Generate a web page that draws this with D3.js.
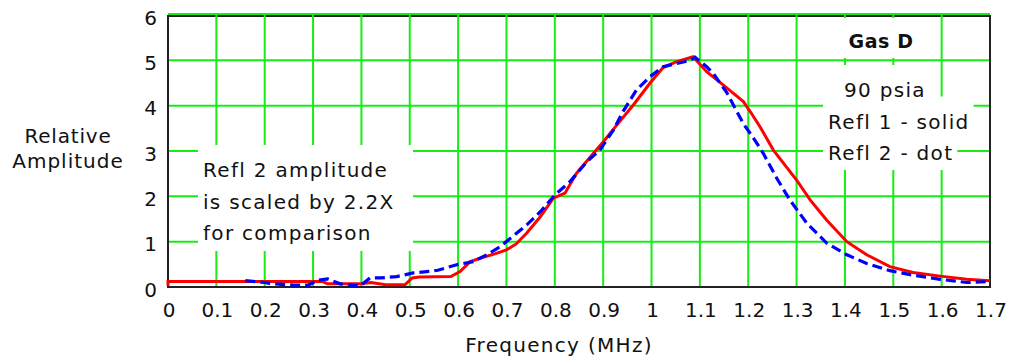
<!DOCTYPE html>
<html>
<head>
<meta charset="utf-8">
<script src="https://cdn.jsdelivr.net/npm/d3@7"></script>
<style>
body { margin: 0; background: #fff; }
text { font-family: "DejaVu Sans", sans-serif; fill: #111; }
</style>
</head>
<body>
<div id="chart"></div>
<script>
// tick values
var xTicks = [0, 0.1, 0.2, 0.3, 0.4, 0.5, 0.6, 0.7, 0.8, 0.9, 1, 1.1, 1.2, 1.3, 1.4, 1.5, 1.6, 1.7];
var yTicks = [0, 1, 2, 3, 4, 5, 6];

// Refl 1 (solid red)
var refl1Freq = [0, 0, 0.32, 0.33, 0.4, 0.42, 0.45, 0.49, 0.505, 0.52, 0.585, 0.604, 0.625, 0.65, 0.676, 0.7, 0.72, 0.742, 0.77, 0.797, 0.821, 0.845, 0.88, 0.9, 0.928, 0.962, 0.997, 1.024, 1.052, 1.086, 1.114, 1.148, 1.19, 1.204, 1.224, 1.252, 1.3, 1.328, 1.362, 1.404, 1.445, 1.493, 1.541, 1.597, 1.652, 1.7];
var refl1Amp  = [0.03, 0.12, 0.12, 0.07, 0.07, 0.1, 0.05, 0.05, 0.2, 0.22, 0.23, 0.34, 0.56, 0.65, 0.73, 0.82, 0.95, 1.19, 1.55, 1.96, 2.07, 2.51, 2.95, 3.2, 3.57, 4.01, 4.5, 4.84, 4.97, 5.08, 4.75, 4.46, 4.09, 3.87, 3.54, 3.02, 2.36, 1.92, 1.48, 1.0, 0.71, 0.45, 0.32, 0.24, 0.17, 0.14];

// Refl 2 (dashed blue, scaled 2.2X)
var refl2Freq = [0.16, 0.2, 0.21, 0.26, 0.29, 0.31, 0.33, 0.356, 0.397, 0.418, 0.44, 0.473, 0.507, 0.535, 0.558, 0.597, 0.631, 0.659, 0.687, 0.711, 0.742, 0.77, 0.8, 0.831, 0.866, 0.893, 0.921, 0.941, 0.969, 0.997, 1.024, 1.052, 1.08, 1.09, 1.114, 1.127, 1.155, 1.19, 1.21, 1.231, 1.259, 1.286, 1.321, 1.362, 1.404, 1.445, 1.493, 1.541, 1.597, 1.652, 1.7];
var refl2Amp  = [0.14, 0.1, 0.08, 0.04, 0.04, 0.15, 0.18, 0.07, 0.02, 0.2, 0.2, 0.23, 0.31, 0.34, 0.37, 0.49, 0.56, 0.71, 0.89, 1.1, 1.37, 1.66, 2.03, 2.32, 2.76, 3.02, 3.46, 3.87, 4.35, 4.64, 4.86, 4.93, 5.0, 5.07, 4.86, 4.72, 4.3, 3.6, 3.3, 2.95, 2.4, 1.92, 1.41, 0.97, 0.71, 0.52, 0.36, 0.26, 0.17, 0.1, 0.12];

var noteLines = ["Refl 2 amplitude", "is scaled by 2.2X", "for comparison"];
var legendTitle = "Gas D";
var legendLines = ["90 psia", "Refl 1 - solid", "Refl 2 - dot"];

var W = 1013, H = 362;
var svg = d3.select("#chart").append("svg")
    .attr("width", W)
    .attr("height", H);

var x = d3.scaleLinear().domain([0, 1.7]).range([168, 990]);
var y = d3.scaleLinear().domain([0, 6]).range([287, 15]);

var grid = "#14ee14";

// frame (black) under the grid
svg.append("rect")
    .attr("x", x(0)).attr("y", y(6) + 1)
    .attr("width", x(1.7) - x(0)).attr("height", y(0) - y(6) - 1)
    .attr("fill", "none").attr("stroke", "#222").attr("stroke-width", 2);

// grid lines
svg.selectAll(".vgrid")
    .data(xTicks.slice(1, -1))
    .enter().append("line")
    .attr("x1", function (d) { return x(d); })
    .attr("x2", function (d) { return x(d); })
    .attr("y1", y(0))
    .attr("y2", y(6))
    .attr("stroke", grid).attr("stroke-width", 2);

svg.selectAll(".hgrid")
    .data(yTicks.slice(1))
    .enter().append("line")
    .attr("x1", x(0))
    .attr("x2", x(1.7))
    .attr("y1", function (d) { return d == 6 ? y(d) - 1 : y(d); })
    .attr("y2", function (d) { return d == 6 ? y(d) - 1 : y(d); })
    .attr("stroke", grid).attr("stroke-width", 2);

// left, bottom, right edges back on top of the grid
svg.append("path")
    .attr("d", "M" + x(0) + "," + y(6) + "V" + y(0) + "H" + x(1.7) + "V" + y(6))
    .attr("fill", "none").attr("stroke", "#222").attr("stroke-width", 2);

// note box on the left
var note = svg.append("g");
note.append("rect")
    .attr("x", 198).attr("y", 145).attr("width", 215).attr("height", 106)
    .attr("fill", "#fff");
note.selectAll("text")
    .data(noteLines)
    .enter().append("text")
    .attr("x", 203)
    .attr("y", function (d, i) { return 177 + i * 31.5; })
    .attr("font-size", 20)
    .attr("letter-spacing", 1.3)
    .text(function (d) { return d; });

// legend text on the right, each line on its own white patch
var legend = [
    {t: legendTitle, x: 881, y: 48, anchor: "middle", bold: true},
    {t: legendLines[0], x: 885, y: 97, anchor: "middle"},
    {t: legendLines[1], x: 828, y: 128.5, anchor: "start"},
    {t: legendLines[2], x: 828, y: 160, anchor: "start"}
];
var lgBg = svg.append("g");
var lgText = svg.append("g").selectAll("text")
    .data(legend)
    .enter().append("text")
    .attr("x", function (d) { return d.x; })
    .attr("y", function (d) { return d.y; })
    .attr("text-anchor", function (d) { return d.anchor; })
    .attr("font-size", function (d) { return d.bold ? 19 : 20; })
    .attr("font-weight", function (d) { return d.bold ? "bold" : "normal"; })
    .attr("letter-spacing", function (d) { return d.bold ? 0.6 : 1.3; })
    .text(function (d) { return d.t; });
lgText.each(function (d, i) {
    var b = this.getBBox();
    var top = d.bold ? 18 : d.y - 32;
    var bottom = d.bold ? 58 : (i == legend.length - 1 ? d.y + 10 : d.y + 2);
    lgBg.append("rect")
        .attr("x", b.x - 5).attr("y", top)
        .attr("width", b.width + 9).attr("height", bottom - top)
        .attr("fill", "#fff");
});

// axis labels
svg.selectAll(".xlab")
    .data(xTicks)
    .enter().append("text")
    .attr("x", function (d) { return x(d) + 1; })
    .attr("y", 317)
    .attr("text-anchor", "middle")
    .attr("font-size", 20)
    .text(function (d) { return String(d); });

svg.selectAll(".ylab")
    .data(yTicks)
    .enter().append("text")
    .attr("x", 157)
    .attr("y", function (d) { return y(d) + 9.5; })
    .attr("text-anchor", "end")
    .attr("font-size", 20)
    .text(function (d) { return String(d); });

svg.append("text")
    .attr("x", 559).attr("y", 352)
    .attr("text-anchor", "middle")
    .attr("font-size", 20)
    .attr("letter-spacing", 1.3)
    .text("Frequency (MHz)");

svg.append("text")
    .attr("x", 68).attr("y", 143)
    .attr("text-anchor", "middle")
    .attr("font-size", 20)
    .attr("letter-spacing", 0.8)
    .text("Relative");
svg.append("text")
    .attr("x", 68).attr("y", 168)
    .attr("text-anchor", "middle")
    .attr("font-size", 20)
    .attr("letter-spacing", 1.0)
    .text("Amplitude");

// curves
var line = d3.line()
    .x(function (d) { return x(d[0]); })
    .y(function (d) { return y(d[1]); });

svg.append("path")
    .datum(d3.zip(refl1Freq, refl1Amp))
    .attr("d", line)
    .attr("fill", "none")
    .attr("stroke", "#ff0000")
    .attr("stroke-width", 3);

svg.append("path")
    .datum(d3.zip(refl2Freq, refl2Amp))
    .attr("d", line)
    .attr("fill", "none")
    .attr("stroke", "#0000ff")
    .attr("stroke-width", 3.2)
    .attr("stroke-dasharray", "10,5");
</script>
</body>
</html>
